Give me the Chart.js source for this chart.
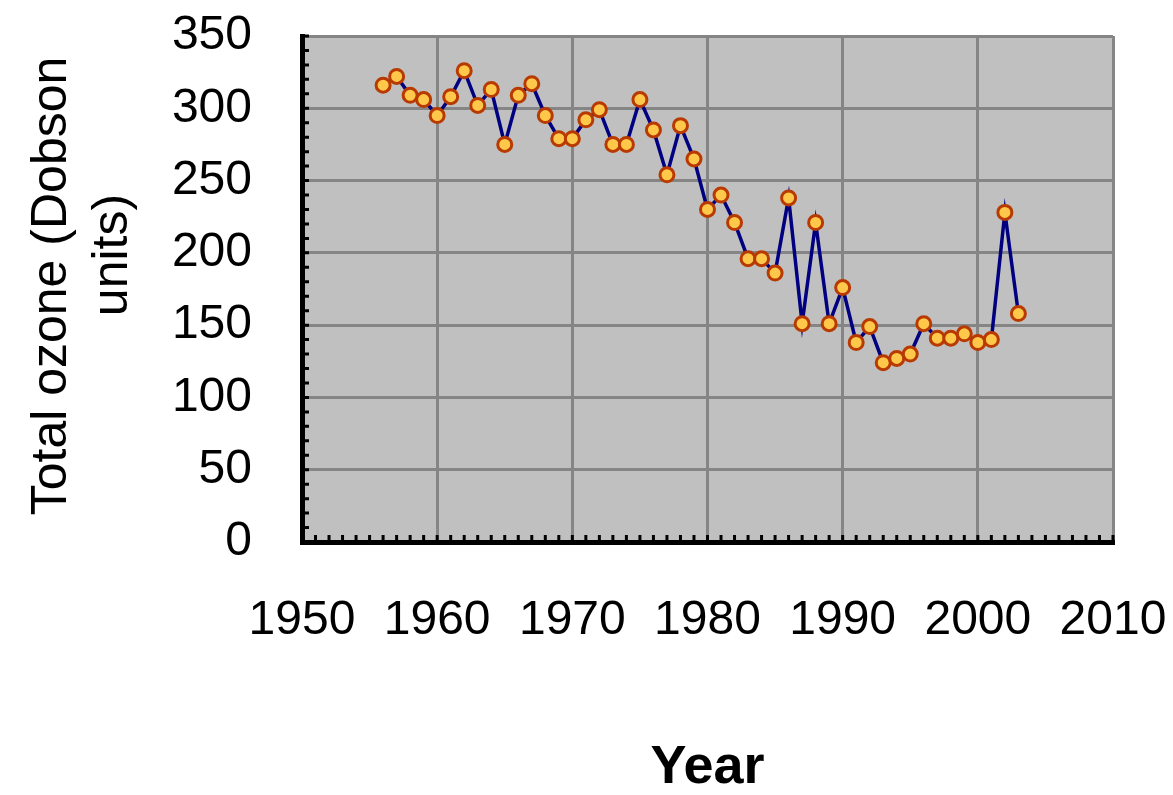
<!DOCTYPE html>
<html>
<head>
<meta charset="utf-8">
<script src="https://cdn.jsdelivr.net/npm/chart.js@4"></script>
<style>
  html, body { margin: 0; padding: 0; background: #fff; }
  #wrap { width: 1173px; height: 795px; }
</style>
</head>
<body>
<div id="wrap"><canvas id="ozoneChart" width="1173" height="795"></canvas></div>
<script>
// data
var years = [1956, 1957, 1958, 1959, 1960, 1961, 1962, 1963, 1964, 1965,
             1966, 1967, 1968, 1969, 1970, 1971, 1972, 1973, 1974, 1975,
             1976, 1977, 1978, 1979, 1980, 1981, 1982, 1983, 1984, 1985,
             1986, 1987, 1988, 1989, 1990, 1991, 1992, 1993, 1994, 1995,
             1996, 1997, 1998, 1999, 2000, 2001, 2002, 2003];
var ozone = [316, 322, 309, 306, 295, 308, 326, 302, 313, 275,
             309, 317, 295, 279, 279, 292, 299, 275, 275, 306,
             285, 254, 288, 265, 230, 240, 221, 196, 196, 186,
             238, 151, 221, 151, 176, 138, 149, 124, 127, 130,
             151, 141, 141, 144, 138, 140, 228, 158];
var xTicks = [1950, 1960, 1970, 1980, 1990, 2000, 2010];
var yTicks = [0, 50, 100, 150, 200, 250, 300, 350];
var yTitleLines = ["Total ozone (Dobson", "units)"];
var xTitle = "Year";

var font = "'Liberation Sans', Arial, sans-serif";

// grey plot background + small inside tick marks + y title
var plotDeco = {
    id: 'plotDeco',
    beforeDraw: function (chart) {
        var a = chart.chartArea, ctx = chart.ctx;
        ctx.save();
        ctx.fillStyle = "#c0c0c0";
        ctx.fillRect(a.left, a.top, a.right - a.left, a.bottom - a.top);
        ctx.restore();
    },
    beforeDatasetsDraw: function (chart) {
        var a = chart.chartArea, ctx = chart.ctx;
        var xs = chart.scales.x, ys = chart.scales.y;
        ctx.save();
        ctx.strokeStyle = "#000";
        ctx.lineWidth = 3;
        ctx.beginPath();
        for (var yr = xTicks[0]; yr <= xTicks[xTicks.length - 1]; yr++) {
            var px = xs.getPixelForValue(yr);
            ctx.moveTo(px, a.bottom);
            ctx.lineTo(px, a.bottom - 7);
        }
        for (var v = yTicks[0]; v <= yTicks[yTicks.length - 1]; v += 10) {
            var py = ys.getPixelForValue(v);
            ctx.moveTo(a.left, py);
            ctx.lineTo(a.left + 7, py);
        }
        ctx.stroke();
        ctx.restore();
    },
    afterDraw: function (chart) {
        var ctx = chart.ctx;
        var pos = [[66, 286], [127, 255]];
        for (var i = 0; i < yTitleLines.length; i++) {
            ctx.save();
            ctx.fillStyle = "#000";
            ctx.font = "50px " + font;
            ctx.textAlign = "center";
            ctx.textBaseline = "alphabetic";
            ctx.translate(pos[i][0], pos[i][1]);
            ctx.rotate(-Math.PI / 2);
            ctx.fillText(yTitleLines[i], 0, 0);
            ctx.restore();
        }
    }
};

new Chart(document.getElementById("ozoneChart"), {
    type: 'line',
    data: {
        datasets: [{
            data: years.map(function (y, i) { return { x: y, y: ozone[i] }; }),
            borderColor: "#000080",
            borderWidth: 3.5,
            tension: 0,
            fill: false,
            pointRadius: 7,
            pointBorderWidth: 3,
            pointBorderColor: "#b83a00",
            pointBackgroundColor: "#ffc84a"
        }]
    },
    options: {
        responsive: false,
        animation: false,
        devicePixelRatio: 1,
        layout: { padding: { top: 36, right: 60, left: 0, bottom: 0 } },
        plugins: {
            legend: { display: false },
            tooltip: { enabled: false }
        },
        scales: {
            x: {
                type: 'linear',
                min: 1950,
                max: 2010,
                afterFit: function (s) {
                    s.height = 253;
                    s.paddingLeft = 0; s.paddingRight = 0;
                    s.paddingTop = 0; s.paddingBottom = 0;
                },
                afterBuildTicks: function (s) { s.ticks = xTicks.map(function (v) { return { value: v }; }); },
                ticks: {
                    color: "#000",
                    padding: 50,
                    maxRotation: 0,
                    font: { family: font, size: 48 },
                    callback: function (v) { return String(v); }
                },
                grid: { color: "#858585", lineWidth: 3, drawTicks: false },
                border: { color: "#000", width: 5 },
                title: {
                    display: true,
                    text: xTitle,
                    color: "#000",
                    font: { family: font, size: 54, weight: 'bold', lineHeight: 1 },
                    padding: { top: 0, bottom: 0 }
                }
            },
            y: {
                min: 0,
                max: 350,
                afterFit: function (s) {
                    s.width = 302;
                    s.paddingLeft = 0; s.paddingRight = 0;
                    s.paddingTop = 0; s.paddingBottom = 0;
                },
                afterBuildTicks: function (s) { s.ticks = yTicks.map(function (v) { return { value: v }; }); },
                ticks: {
                    color: "#000",
                    padding: 50,
                    font: { family: font, size: 48 }
                },
                grid: { color: "#858585", lineWidth: 3, drawTicks: false },
                border: { color: "#000", width: 5 }
            }
        }
    },
    plugins: [plotDeco]
});
</script>
</body>
</html>
